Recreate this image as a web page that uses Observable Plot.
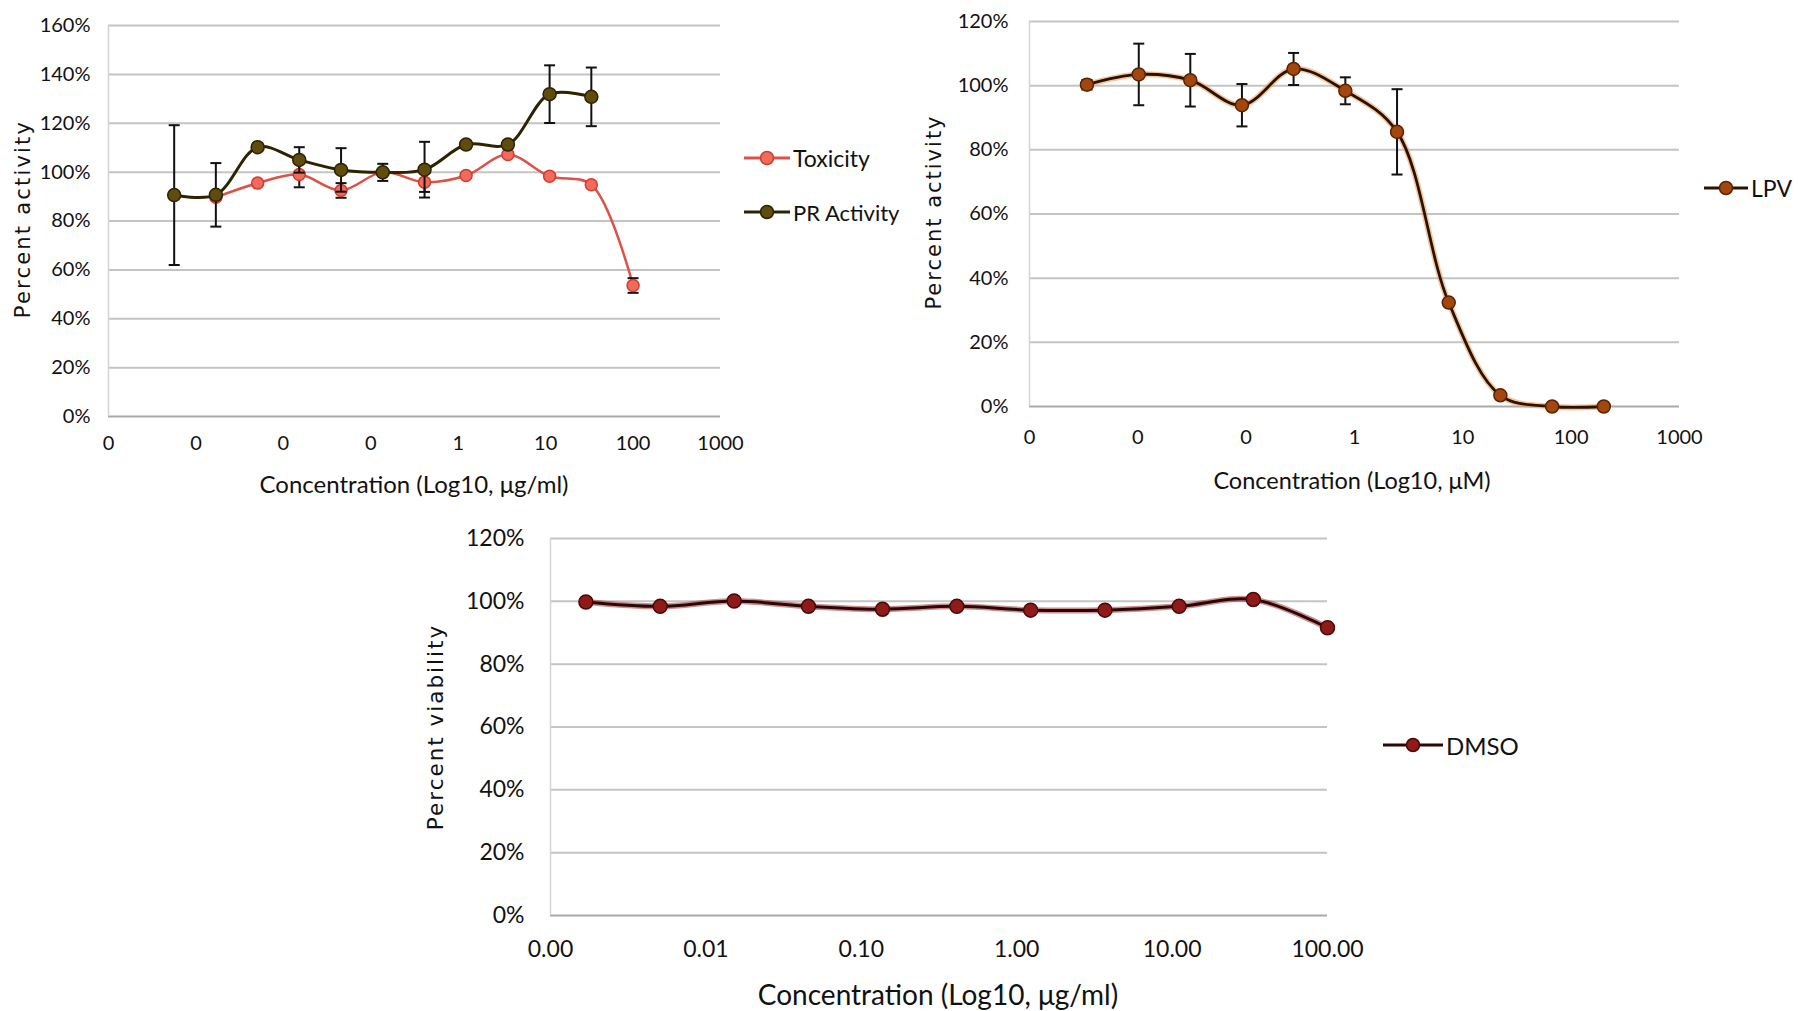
<!DOCTYPE html>
<html>
<head>
<meta charset="utf-8">
<script src="https://cdn.jsdelivr.net/npm/d3@7"></script>
<script src="https://cdn.jsdelivr.net/npm/@observablehq/plot@0.6"></script>
<style>
  html, body { margin: 0; padding: 0; background: #ffffff; }
  #root { position: relative; width: 1798px; height: 1011px; overflow: hidden; background: #fff; }
  .chart { position: absolute; }
  .ttl { position: absolute; white-space: nowrap; color: #111; font-family: Lato, "Open Sans", sans-serif; }
  .ytl { position: absolute; white-space: nowrap; color: #111; font-family: "DejaVu Sans", Verdana, sans-serif; transform: translate(-50%, -50%) rotate(-90deg); }
  .xtl { transform: translate(-50%, -50%); }
  .leg { position: absolute; display: flex; align-items: center; font-family: Lato, "Open Sans", sans-serif; color: #111; white-space: nowrap; }
  .leg svg { display: block; margin-right: 2px; }
</style>
</head>
<body>
<div id="root"></div>
<script>
// ---------- Data ----------
// Chart 1: PR activity / Toxicity (µg/ml, 3-fold dilutions)
const conc1 = [0.000564, 0.00169, 0.00508, 0.0152, 0.0457, 0.137, 0.412, 1.23, 3.70, 11.1, 33.3, 100];
const prActivity = [90.6, 90.7, 110.2, 105.0, 100.9, 99.9, 101.0, 111.3, 111.3, 131.9, 130.8, null];
const prError    = [28.6, 13.0, 1.5, 5.2, 8.9, 3.5, 11.4, 1.5, 1.5, 11.8, 12.0, null];
const toxicity   = [null, 89.7, 95.5, 99.0, 92.5, 100.0, 95.9, 98.6, 107.2, 98.3, 94.8, 53.6];
const toxError   = [null, 1.0, 1.0, 5.2, 3.0, 1.0, 4.0, 1.0, 1.0, 1.0, 1.0, 3.0];
const xTicks1  = [0.0001, 0.001, 0.01, 0.1, 1, 10, 100, 1000];
const xLabels1 = ["0", "0", "0", "0", "1", "10", "100", "1000"];
const yTicks1  = [0, 20, 40, 60, 80, 100, 120, 140, 160];

// Chart 2: LPV (µM)
const conc2 = [0.00339, 0.0102, 0.0305, 0.0914, 0.274, 0.823, 2.47, 7.41, 22.2, 66.7, 200];
const lpv      = [100.3, 103.5, 101.7, 93.9, 105.2, 98.4, 85.6, 32.4, 3.5, 0, 0];
const lpvError = [1.5, 9.6, 8.2, 6.6, 5.0, 4.2, 13.3, 0, 0, 0, 0];
const xTicks2  = [0.001, 0.01, 0.1, 1, 10, 100, 1000];
const xLabels2 = ["0", "0", "0", "1", "10", "100", "1000"];
const yTicks2  = [0, 20, 40, 60, 80, 100, 120];

// Chart 3: DMSO viability (µg/ml)
const conc3 = [0.00169, 0.00508, 0.0152, 0.0457, 0.137, 0.412, 1.23, 3.70, 11.1, 33.3, 100];
const dmso  = [99.8, 98.4, 100.1, 98.4, 97.5, 98.4, 97.2, 97.2, 98.4, 100.6, 91.6];
const xTicks3  = [0.001, 0.01, 0.1, 1, 10, 100];
const xLabels3 = ["0.00", "0.01", "0.10", "1.00", "10.00", "100.00"];
const yTicks3  = [0, 20, 40, 60, 80, 100, 120];

// ---------- Helpers ----------
const root = document.getElementById("root");
const rows = (xs, ys, es) => xs.map((x, i) => ({x, y: ys[i], e: es ? es[i] : 0})).filter(d => d.y != null);
const cap = { draw(ctx, size) { const h = Math.sqrt(size / Math.PI); ctx.moveTo(-h, 0); ctx.lineTo(h, 0); } };

function place(el, left, top) { el.classList.add("chart"); el.style.left = left + "px"; el.style.top = top + "px"; root.appendChild(el); }

function gridMarks(yTicks, xMin) {
  return [
    Plot.ruleY(yTicks.filter(t => t > 0), {stroke: "#c4c4c4", strokeWidth: 2}),
    Plot.ruleY([0], {stroke: "#a9a9a9", strokeWidth: 2}),
    Plot.ruleX([xMin], {stroke: "#d4d4d4", strokeWidth: 1.5})
  ];
}

function errMarks(data) {
  const d = data.filter(r => r.e > 0);
  return [
    Plot.ruleX(d, {x: "x", y1: r => r.y - r.e, y2: r => r.y + r.e, stroke: "#111", strokeWidth: 2}),
    Plot.dot(d, {x: "x", y: r => r.y + r.e, symbol: cap, r: 5.5, stroke: "#111", strokeWidth: 2, fill: "none"}),
    Plot.dot(d, {x: "x", y: r => r.y - r.e, symbol: cap, r: 5.5, stroke: "#111", strokeWidth: 2, fill: "none"})
  ];
}

function axes(xTicks, xLabels, yTicks, fs, xPad, yPad) {
  return [
    Plot.axisX({ticks: xTicks, tickFormat: d => xLabels[xTicks.indexOf(d)], tickSize: 0, tickPadding: xPad, label: null, fontSize: fs}),
    Plot.axisY({ticks: yTicks, tickFormat: d => d + "%", tickSize: 0, tickPadding: yPad, label: null, fontSize: fs})
  ];
}

function legend(left, top, label, lineColor, fill, stroke, fs, w) {
  const div = document.createElement("div");
  div.className = "leg";
  div.style.left = left + "px";
  div.style.top = (top - 15) + "px";
  div.style.height = "30px";
  div.style.fontSize = fs + "px";
  div.innerHTML = `<svg width="${w}" height="16"><line x1="1" y1="8" x2="${w - 1}" y2="8" stroke="${lineColor}" stroke-width="3"/><circle cx="${w / 2}" cy="8" r="6.5" fill="${fill}" stroke="${stroke}" stroke-width="1.5"/></svg><span>${label}</span>`;
  root.appendChild(div);
}

function title(text, cx, cy, fs, rotated, spacing) {
  const div = document.createElement("div");
  div.textContent = text;
  div.className = rotated ? "ytl" : "ttl xtl";
  div.style.left = cx + "px";
  div.style.top = cy + "px";
  div.style.fontSize = fs + "px";
  if (spacing) div.style.letterSpacing = spacing + "px";
  root.appendChild(div);
}

const baseStyle = {fontFamily: "Lato, 'Open Sans', sans-serif", color: "#111", background: "transparent", overflow: "visible"};

// ---------- Chart 1 ----------
const pr = rows(conc1, prActivity, prError);
const tox = rows(conc1, toxicity, toxError);
const c1 = Plot.plot({
  width: 900, height: 500,
  marginLeft: 108, marginRight: 180, marginTop: 25, marginBottom: 84,
  x: {type: "log", domain: [0.0001, 1000]},
  y: {domain: [0, 160]},
  style: baseStyle,
  marks: [
    ...gridMarks(yTicks1, 0.0001),
    ...axes(xTicks1, xLabels1, yTicks1, 20, 19, 18),
    Plot.line(tox, {x: "x", y: "y", stroke: "#dc5248", strokeWidth: 2.5, curve: "catmull-rom"}),
    ...errMarks(tox),
    Plot.dot(tox, {x: "x", y: "y", r: 6, fill: "#f26a5b", stroke: "#cf3d30", strokeWidth: 1.5}),
    Plot.line(pr, {x: "x", y: "y", stroke: "#2c2300", strokeWidth: 3, curve: "catmull-rom"}),
    ...errMarks(pr),
    Plot.dot(pr, {x: "x", y: "y", r: 6.5, fill: "#5f4c0e", stroke: "#2c2300", strokeWidth: 1.5})
  ]
});
place(c1, 0, 0);
legend(743, 158, "Toxicity", "#dc5248", "#f26a5b", "#cf3d30", 23, 48);
legend(743, 212, "PR Activity", "#2c2300", "#5f4c0e", "#2c2300", 22, 48);
title("Concentration (Log10, μg/ml)", 414, 483, 24, false);
title("Percent  activity", 23, 219, 21, true, 2.2);

// ---------- Chart 2 ----------
const lp = rows(conc2, lpv, lpvError);
const c2 = Plot.plot({
  width: 898, height: 500,
  marginLeft: 129, marginRight: 119, marginTop: 21, marginBottom: 94,
  x: {type: "log", domain: [0.001, 1000]},
  y: {domain: [0, 120]},
  style: baseStyle,
  marks: [
    ...gridMarks(yTicks2, 0.001),
    ...axes(xTicks2, xLabels2, yTicks2, 20, 23, 21),
    Plot.line(lp, {x: "x", y: "y", stroke: "#f0a060", strokeOpacity: 0.6, strokeWidth: 6, curve: "catmull-rom"}),
    Plot.line(lp, {x: "x", y: "y", stroke: "#2b1200", strokeWidth: 2.8, curve: "catmull-rom"}),
    ...errMarks(lp),
    Plot.dot(lp, {x: "x", y: "y", r: 6.5, fill: "#a4470f", stroke: "#5a2200", strokeWidth: 1.5})
  ]
});
place(c2, 900, 0);
legend(1703, 188, "LPV", "#2b1200", "#a4470f", "#5a2200", 23, 46);
title("Concentration (Log10, μM)", 1352, 480, 23.5, false);
title("Percent activity", 934, 212, 21, true, 2);

// ---------- Chart 3 ----------
const dm = rows(conc3, dmso);
const c3 = Plot.plot({
  width: 1200, height: 511,
  marginLeft: 150, marginRight: 273, marginTop: 38, marginBottom: 96,
  x: {type: "log", domain: [0.001, 100]},
  y: {domain: [0, 120]},
  style: baseStyle,
  marks: [
    ...gridMarks(yTicks3, 0.001),
    ...axes(xTicks3, xLabels3, yTicks3, 23, 25, 26),
    Plot.line(dm, {x: "x", y: "y", stroke: "#a02020", strokeOpacity: 0.5, strokeWidth: 6, curve: "catmull-rom"}),
    Plot.line(dm, {x: "x", y: "y", stroke: "#2b0707", strokeWidth: 3, curve: "catmull-rom"}),
    Plot.dot(dm, {x: "x", y: "y", r: 7, fill: "#8e1a1a", stroke: "#4a0808", strokeWidth: 1.5})
  ]
});
place(c3, 400, 500);
legend(1382, 745, "DMSO", "#2b0707", "#8e1a1a", "#4a0808", 24, 62);
title("Concentration (Log10, μg/ml)", 938, 994, 28, false);
title("Percent  viability", 435, 727, 21.5, true, 2);
</script>
</body>
</html>
